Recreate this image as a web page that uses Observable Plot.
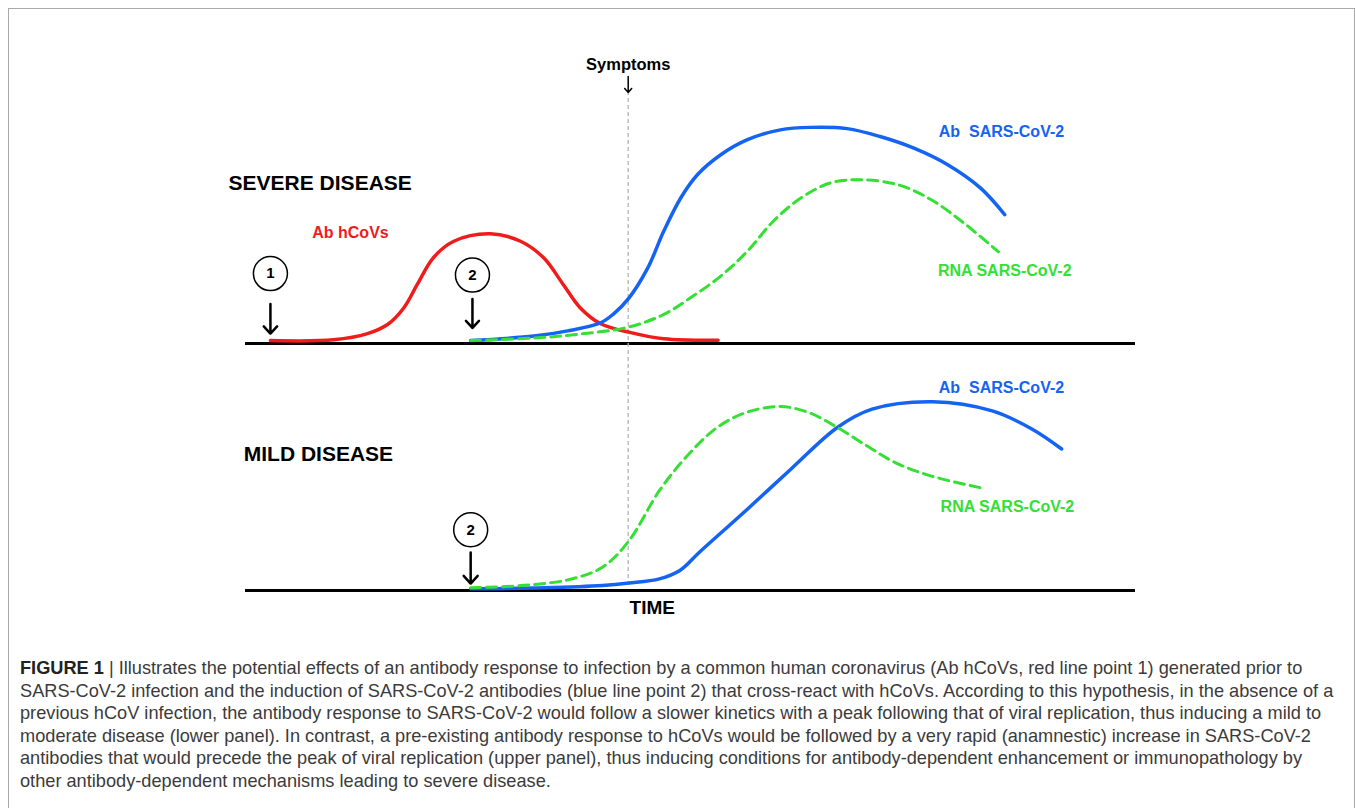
<!DOCTYPE html>
<html><head><meta charset="utf-8">
<script src="https://cdn.jsdelivr.net/npm/d3@7"></script>
<script src="https://cdn.jsdelivr.net/npm/@observablehq/plot@0.6"></script>
<style>
body{margin:0;background:#fff;}
#frame{position:absolute;left:8px;top:8px;width:1345px;height:840px;border:1px solid #a9a9a9;}
#chart{position:absolute;left:0;top:0;}
#caption{position:absolute;left:11px;top:648px;font-family:"Liberation Sans",Arial,sans-serif;font-size:18.2px;line-height:22.5px;color:#3b3b3b;white-space:nowrap;}
#caption b{color:#222;}
</style></head><body>
<div id="frame"><div id="chart"></div>
<div id="caption"><b>FIGURE 1</b> | Illustrates the potential effects of an antibody response to infection by a common human coronavirus (Ab hCoVs, red line point 1) generated prior to<br>SARS-CoV-2 infection and the induction of SARS-CoV-2 antibodies (blue line point 2) that cross-react with hCoVs. According to this hypothesis, in the absence of a<br>previous hCoV infection, the antibody response to SARS-CoV-2 would follow a slower kinetics with a peak following that of viral replication, thus inducing a mild to<br>moderate disease (lower panel). In contrast, a pre-existing antibody response to hCoVs would be followed by a very rapid (anamnestic) increase in SARS-CoV-2<br>antibodies that would precede the peak of viral replication (upper panel), thus inducing conditions for antibody-dependent enhancement or immunopathology by<br>other antibody-dependent mechanisms leading to severe disease.</div>
</div>
<script>
// ---- data: [time, level] pairs ----
const panels = ["severe", "mild"];
const abHCoVsSevere = [[2.8,1.2],[9.9,1.5],[13.7,4.0],[16.0,7.8],[17.8,14.5],[19.3,23.9],[21.1,34.7],[23.4,41.4],[27.5,44.4],[30.9,41.4],[33.5,34.7],[35.7,23.9],[37.6,14.5],[39.9,8.0],[43.3,4.4],[47.0,1.9],[53.1,1.3]];
const abSarsSevere = [[25.3,1.2],[32.4,3.0],[36.2,5.1],[39.9,8.4],[41.3,11.8],[43.1,18.5],[45.2,30.6],[47.0,45.5],[48.9,58.9],[50.8,68.4],[53.4,76.4],[56.4,82.5],[60.1,86.5],[63.5,87.5],[67.6,87.0],[71.3,83.8],[75.1,79.1],[78.9,72.4],[82.6,62.9],[85.3,52.2]];
const rnaSarsSevere = [[25.3,1.2],[32.4,2.2],[37.6,3.8],[43.1,6.7],[47.0,11.8],[50.0,18.5],[53.4,27.3],[56.4,37.4],[59.3,49.5],[62.4,58.9],[65.7,65.0],[69.1,66.3],[73.3,64.3],[77.0,58.3],[80.7,48.8],[84.6,37.1]];
const abSarsMild = [[25.3,0.7],[33.6,1.1],[40.1,2.0],[43.1,3.0],[46.5,4.7],[48.8,8.1],[51.0,15.5],[56.2,32.3],[61.3,49.2],[66.5,66.0],[70.4,73.4],[77.2,76.4],[83.9,72.7],[88.4,65.3],[91.7,57.3]];
const rnaSarsMild = [[25.3,1.1],[31.0,2.0],[36.2,4.3],[40.1,9.4],[43.1,20.2],[46.5,40.4],[49.8,55.2],[53.0,66.0],[56.2,72.0],[60.1,74.5],[63.3,72.0],[66.5,66.0],[69.8,58.6],[73.0,51.8],[76.9,46.5],[82.7,41.5]];
const symptomsTime = 43.0;
const infections = [
  {panel: "severe", label: "1", t: 2.8},
  {panel: "severe", label: "2", t: 25.5},
  {panel: "mild", label: "2", t: 25.3}
];
const panelTitles = [{panel: "severe", text: "SEVERE DISEASE"}, {panel: "mild", text: "MILD DISEASE"}];
const seriesNames = {hcov: "Ab hCoVs", ab: "Ab\u00a0 SARS-CoV-2", rna: "RNA SARS-CoV-2"};
const axisTitle = "TIME";
const symptomsLabel = "Symptoms";

// ---- styles ----
const RED = "#f01b1b", BLUE = "#1563f2", GREEN = "#33e033";

const rows = (panel, series, pts) => pts.map(([t, v]) => ({panel, series, t, v}));
const hcov = rows("severe", "hcov", abHCoVsSevere);
const ab = [...rows("severe", "ab", abSarsSevere), ...rows("mild", "ab", abSarsMild)];
const rna = [...rows("severe", "rna", rnaSarsSevere), ...rows("mild", "rna", rnaSarsMild)];

// annotation placement (layout, in chart units)
const circleLevels = [28.3, 27.7, 24.6];
const arrowSpan = [[16.0, 4.0], [18.0, 6.3], [15.4, 2.8]];
const inf = infections.map((d, i) => ({...d, c: circleLevels[i], y1: arrowSpan[i][0], y2: arrowSpan[i][1]}));
const titles = panelTitles.map(d => ({...d, t: d.panel === "severe" ? -1.9 : -0.2, v: d.panel === "severe" ? 65.0 : 55.2}));
const blueLabels = [{panel: "severe", text: seriesNames.ab, t: 77.9, v: 85.5}, {panel: "mild", text: seriesNames.ab, t: 77.9, v: 82.2}];
const greenLabels = [{panel: "severe", text: seriesNames.rna, t: 77.8, v: 29.3}, {panel: "mild", text: seriesNames.rna, t: 78.1, v: 33.7}];
const redLabels = [{panel: "severe", text: seriesNames.hcov, t: 7.5, v: 44.6}];

const chart = Plot.plot({
  width: 1345, height: 620,
  marginLeft: 236, marginRight: 219, marginTop: 86, marginBottom: 39,
  style: {fontFamily: "'Liberation Sans', Arial, sans-serif", background: "transparent"},
  x: {domain: [0, 100], axis: null},
  y: {domain: [0, 100], axis: null},
  fy: {domain: panels, axis: null, padding: 0},
  marks: [
    Plot.ruleY([0], {x1: 0, x2: 100, stroke: "#000", strokeWidth: 3}),
    Plot.ruleX([{panel: "severe"}], {x: symptomsTime, y1: -98, y2: 101.2, fy: "panel", stroke: "#b5b5b5", strokeWidth: 1.3, strokeDasharray: "4,3"}),
    Plot.arrow([{panel: "severe"}], {x1: symptomsTime, x2: symptomsTime, y1: 108.1, y2: 101.6, fy: "panel", stroke: "#000", strokeWidth: 1.5, headLength: 6, headAngle: 80}),
    Plot.text([{panel: "severe", text: symptomsLabel}], {x: symptomsTime, y: 112.9, text: "text", fy: "panel", fontSize: 16.5, fontWeight: "bold", fill: "#000"}),
    Plot.line(hcov, {x: "t", y: "v", fy: "panel", stroke: RED, strokeWidth: 3.5, curve: "catmull-rom"}),
    Plot.line(ab, {x: "t", y: "v", z: "panel", fy: "panel", stroke: BLUE, strokeWidth: 3.5, curve: "catmull-rom"}),
    Plot.line(rna, {x: "t", y: "v", z: "panel", fy: "panel", stroke: GREEN, strokeWidth: 3, strokeDasharray: "10,6", curve: "catmull-rom"}),
    Plot.arrow(inf, {x1: "t", x2: "t", y1: "y1", y2: "y2", fy: "panel", stroke: "#000", strokeWidth: 2.5, headLength: 12, headAngle: 85}),
    Plot.dot(inf, {x: "t", y: "c", fy: "panel", r: 17, fill: "white", stroke: "#000", strokeWidth: 1.5}),
    Plot.text(inf, {x: "t", y: "c", text: "label", fy: "panel", fontSize: 15, fontWeight: "bold", fill: "#000"}),
    Plot.text(titles, {x: "t", y: "v", text: "text", fy: "panel", textAnchor: "start", fontSize: 21, fontWeight: "bold", fill: "#000"}),
    Plot.text(redLabels, {x: "t", y: "v", text: "text", fy: "panel", textAnchor: "start", fontSize: 16, fontWeight: "bold", fill: RED}),
    Plot.text(blueLabels, {x: "t", y: "v", text: "text", fy: "panel", textAnchor: "start", fontSize: 16, fontWeight: "bold", fill: BLUE}),
    Plot.text(greenLabels, {x: "t", y: "v", text: "text", fy: "panel", textAnchor: "start", fontSize: 16, fontWeight: "bold", fill: GREEN}),
    Plot.text([{panel: "mild", text: axisTitle}], {x: 45.7, y: -6.9, text: "text", fy: "panel", fontSize: 19, fontWeight: "bold", fill: "#000"})
  ]
});
document.getElementById("chart").appendChild(chart);
</script>
</body></html>
